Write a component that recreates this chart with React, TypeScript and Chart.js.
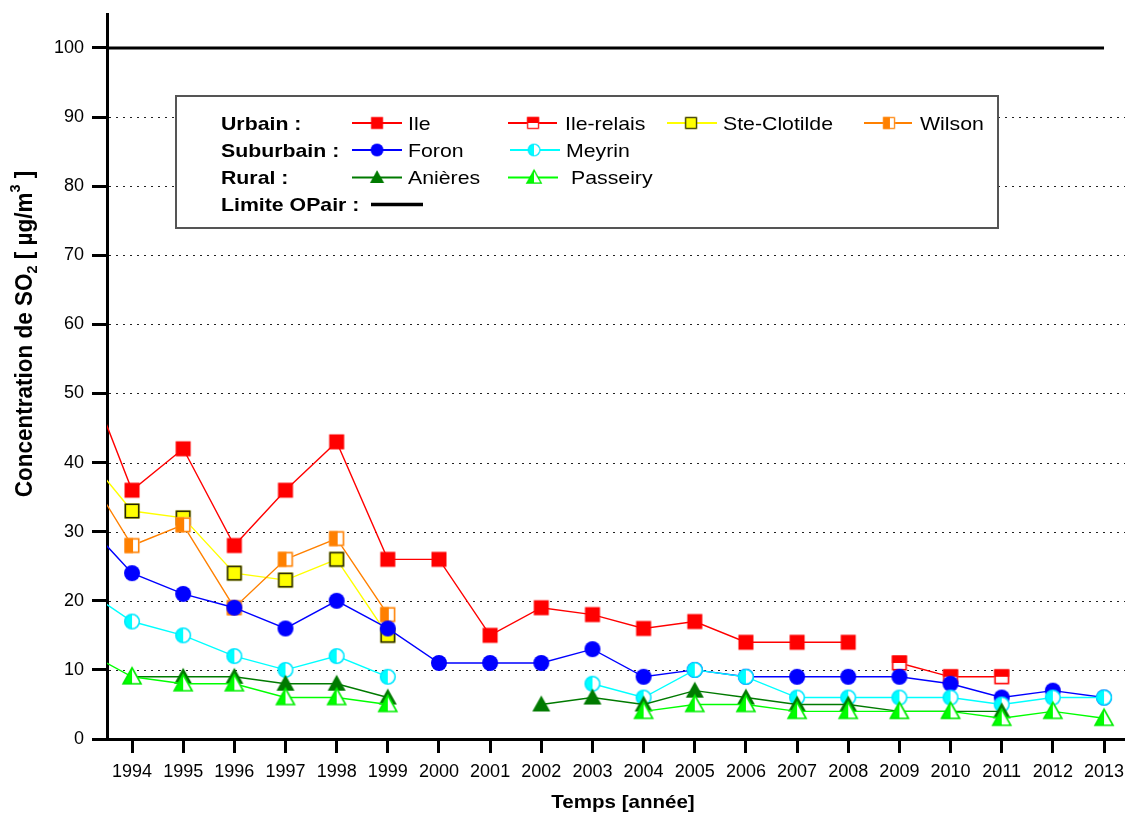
import React, { useEffect, useRef } from 'react';
import { Chart, registerables } from 'chart.js';

Chart.register(...registerables);

// ---------- data ----------
const years = [1993, 1994, 1995, 1996, 1997, 1998, 1999, 2000, 2001, 2002, 2003, 2004, 2005, 2006, 2007, 2008, 2009, 2010, 2011, 2012, 2013];
const tickYears = [1994, 1995, 1996, 1997, 1998, 1999, 2000, 2001, 2002, 2003, 2004, 2005, 2006, 2007, 2008, 2009, 2010, 2011, 2012, 2013];
const yTicks = [0, 10, 20, 30, 40, 50, 60, 70, 80, 90, 100];
const yGridValues = [10, 20, 30, 40, 50, 60, 70, 80, 90];

const ile = [55, 36, 42, 28, 36, 43, 26, 26, 15, 19, 18, 16, 17, 14, 14, 14, null, null, null, null, null];
const ileRelais = [null, null, null, null, null, null, null, null, null, null, null, null, null, null, null, null, 11, 9, 9, null, null];
const steClotilde = [42, 33, 32, 24, 23, 26, 15, null, null, null, null, null, null, null, null, null, null, null, null, null, null];
const wilson = [40, 28, 31, 19, 26, 29, 18, null, null, null, null, null, null, null, null, null, null, null, null, null, null];
const foron = [32, 24, 21, 19, 16, 20, 16, 11, 11, 11, 13, 9, 10, 9, 9, 9, 9, 8, 6, 7, 6];
const meyrin = [22, 17, 15, 12, 10, 12, 9, null, null, null, 8, 6, 10, 9, 6, 6, 6, 6, 5, 6, 6];
const anieres = [null, 9, 9, 9, 8, 8, 6, null, null, 5, 6, 5, 7, 6, 5, 5, 4, 4, 4, null, null];
const passeiry = [13, 9, 8, 8, 6, 6, 5, null, null, null, null, 4, 5, 5, 4, 4, 4, 4, 3, 4, 3];
const limitYears = [1993, 2013];
const limitValues = [100, 100];

const seriesNames = ['Ile', 'Ile-relais', 'Ste-Clotilde', 'Wilson', 'Foron', 'Meyrin', 'Anières', 'Passeiry'];
const groupLabels = ['Urbain :', 'Suburbain :', 'Rural :', 'Limite OPair :'];
const limitName = 'Limite OPair';
const xTitle = 'Temps [année]';

// ---------- styles ----------
const FONT = "'Liberation Sans', Arial, Helvetica, sans-serif";
const colors = ['#ff0000', '#ff0000', '#ffff00', '#ff8000', '#0000ff', '#00ffff', '#007a00', '#00ff00'];

function makeMarker(draw: (ctx: CanvasRenderingContext2D, c: number) => void): HTMLCanvasElement {
  const cv = document.createElement('canvas');
  cv.width = 24;
  cv.height = 24;
  const ctx = cv.getContext('2d') as CanvasRenderingContext2D;
  draw(ctx, 12);
  return cv;
}

function buildMarkers(): HTMLCanvasElement[] {
  const sq = 15;
  const h = sq / 2;
  const tri = (ctx: CanvasRenderingContext2D, c: number) => {
    ctx.beginPath();
    ctx.moveTo(c, c - 9);
    ctx.lineTo(c + 9, c + 7);
    ctx.lineTo(c - 9, c + 7);
    ctx.closePath();
  };
  return [
    makeMarker((ctx, c) => {
      ctx.fillStyle = '#ff0000';
      ctx.fillRect(c - h, c - h, sq, sq);
    }),
    makeMarker((ctx, c) => {
      ctx.fillStyle = '#ffffff';
      ctx.fillRect(c - h, c - h, sq, sq);
      ctx.fillStyle = '#ff0000';
      ctx.fillRect(c - h, c - h, sq, h);
      ctx.strokeStyle = '#ff0000';
      ctx.lineWidth = 1.6;
      ctx.strokeRect(c - h + 0.8, c - h + 0.8, sq - 1.6, sq - 1.6);
    }),
    makeMarker((ctx, c) => {
      ctx.fillStyle = '#ffff00';
      ctx.fillRect(c - h, c - h, sq, sq);
      ctx.strokeStyle = '#222200';
      ctx.lineWidth = 1.6;
      ctx.strokeRect(c - h + 0.8, c - h + 0.8, sq - 1.6, sq - 1.6);
    }),
    makeMarker((ctx, c) => {
      ctx.fillStyle = '#ffffff';
      ctx.fillRect(c - h, c - h, sq, sq);
      ctx.fillStyle = '#ff8000';
      ctx.fillRect(c - h, c - h, h + 1, sq);
      ctx.strokeStyle = '#ff8000';
      ctx.lineWidth = 1.6;
      ctx.strokeRect(c - h + 0.8, c - h + 0.8, sq - 1.6, sq - 1.6);
    }),
    makeMarker((ctx, c) => {
      ctx.fillStyle = '#0000ff';
      ctx.beginPath();
      ctx.arc(c, c, 8, 0, Math.PI * 2);
      ctx.fill();
    }),
    makeMarker((ctx, c) => {
      const r = 7.3;
      ctx.fillStyle = '#ffffff';
      ctx.beginPath();
      ctx.arc(c, c, r, 0, Math.PI * 2);
      ctx.fill();
      ctx.fillStyle = '#00ffff';
      ctx.beginPath();
      ctx.moveTo(c, c - r);
      ctx.arc(c, c, r, -Math.PI / 2, Math.PI / 2, true);
      ctx.closePath();
      ctx.fill();
      ctx.strokeStyle = '#00e8ff';
      ctx.lineWidth = 1.6;
      ctx.beginPath();
      ctx.arc(c, c, r, 0, Math.PI * 2);
      ctx.stroke();
    }),
    makeMarker((ctx, c) => {
      ctx.fillStyle = '#007a00';
      tri(ctx, c);
      ctx.fill();
    }),
    makeMarker((ctx, c) => {
      ctx.fillStyle = '#ffffff';
      tri(ctx, c);
      ctx.fill();
      ctx.fillStyle = '#00ff00';
      ctx.beginPath();
      ctx.moveTo(c, c - 9);
      ctx.lineTo(c, c + 7);
      ctx.lineTo(c - 9, c + 7);
      ctx.closePath();
      ctx.fill();
      ctx.strokeStyle = '#00ee00';
      ctx.lineWidth = 1.6;
      tri(ctx, c);
      ctx.stroke();
    }),
  ];
}

// legend layout (pixels)
const LEG_BOX = { x: 176, y: 96, w: 822, h: 132 };
const LEG_BASELINES = [129.5, 156.5, 184, 211];
const LEG_LABEL_X = 221;
const LEG_ITEMS = [
  { row: 0, x0: 352, x1: 402, mx: 377, tx: 408 },
  { row: 0, x0: 508, x1: 557, mx: 533, tx: 565 },
  { row: 0, x0: 667, x1: 717, mx: 691, tx: 723 },
  { row: 0, x0: 864, x1: 912, mx: 889, tx: 920 },
  { row: 1, x0: 352, x1: 402, mx: 377, tx: 408 },
  { row: 1, x0: 510, x1: 560, mx: 534, tx: 566 },
  { row: 2, x0: 352, x1: 402, mx: 377, tx: 408 },
  { row: 2, x0: 508, x1: 558, mx: 534, tx: 571 },
];

function stretchedText(ctx: CanvasRenderingContext2D, text: string, x: number, y: number, font: string, sx: number) {
  ctx.save();
  ctx.translate(x, y);
  ctx.scale(sx, 1);
  ctx.font = font;
  ctx.textAlign = 'left';
  ctx.textBaseline = 'alphabetic';
  ctx.fillStyle = '#000';
  ctx.fillText(text, 0, 0);
  ctx.restore();
}

export default function App() {
  const canvasRef = useRef<HTMLCanvasElement | null>(null);

  useEffect(() => {
    const canvas = canvasRef.current;
    if (!canvas) return;
    const markers = buildMarkers();
    Chart.defaults.font.family = FONT;
    Chart.defaults.color = '#000';

    const seriesData = [ile, ileRelais, steClotilde, wilson, foron, meyrin, anieres, passeiry];
    const clip = { left: 0, top: 10, right: 10, bottom: 10 };
    const datasets: any[] = seriesData.map((arr, i) => ({
      label: seriesNames[i],
      data: years.map((x, j) => ({ x, y: arr[j] })),
      borderColor: colors[i],
      backgroundColor: colors[i],
      borderWidth: 1.4,
      pointStyle: markers[i],
      pointRadius: 6,
      pointHoverRadius: 6,
      spanGaps: false,
      tension: 0,
      order: 20 - i,
      clip,
    }));
    datasets.push({
      label: limitName,
      data: limitYears.map((x, j) => ({ x, y: limitValues[j] })),
      borderColor: '#000',
      borderWidth: 3,
      pointRadius: 0,
      order: 1,
      clip,
    });

    const dottedGrid = {
      id: 'dottedGrid',
      beforeDatasetsDraw(chart: any) {
        const ctx: CanvasRenderingContext2D = chart.ctx;
        const area = chart.chartArea;
        const ys = chart.scales.y;
        ctx.save();
        ctx.strokeStyle = '#222';
        ctx.lineWidth = 1;
        ctx.setLineDash([2, 5]);
        yGridValues.forEach((v) => {
          const py = Math.round(ys.getPixelForValue(v)) + 0.5;
          ctx.beginPath();
          ctx.moveTo(area.left + 2, py);
          ctx.lineTo(area.right, py);
          ctx.stroke();
        });
        ctx.restore();
      },
    };

    const overlay = {
      id: 'overlay',
      afterDraw(chart: any) {
        const ctx: CanvasRenderingContext2D = chart.ctx;
        ctx.save();
        // legend box
        ctx.fillStyle = '#fff';
        ctx.fillRect(LEG_BOX.x, LEG_BOX.y, LEG_BOX.w, LEG_BOX.h);
        ctx.strokeStyle = '#555';
        ctx.lineWidth = 2;
        ctx.strokeRect(LEG_BOX.x, LEG_BOX.y, LEG_BOX.w, LEG_BOX.h);
        const fontB = `bold 19px ${FONT}`;
        const fontR = `19px ${FONT}`;
        groupLabels.forEach((g, r) => stretchedText(ctx, g, LEG_LABEL_X, LEG_BASELINES[r], fontB, 1.12));
        LEG_ITEMS.forEach((it, i) => {
          const cy = LEG_BASELINES[it.row] - 6.5;
          ctx.strokeStyle = colors[i];
          ctx.lineWidth = 2;
          ctx.beginPath();
          ctx.moveTo(it.x0, cy);
          ctx.lineTo(it.x1, cy);
          ctx.stroke();
          const m = markers[i];
          const s = 0.8;
          ctx.drawImage(m, it.mx - (m.width * s) / 2, cy - (m.height * s) / 2, m.width * s, m.height * s);
          stretchedText(ctx, seriesNames[i], it.tx, LEG_BASELINES[it.row], fontR, 1.12);
        });
        // limit line in legend
        const ly = LEG_BASELINES[3] - 6.5;
        ctx.strokeStyle = '#000';
        ctx.lineWidth = 3.5;
        ctx.beginPath();
        ctx.moveTo(371, ly);
        ctx.lineTo(423, ly);
        ctx.stroke();

        // x title
        const xf = `bold 18.5px ${FONT}`;
        ctx.font = xf;
        const xw = ctx.measureText(xTitle).width * 1.11;
        stretchedText(ctx, xTitle, 623 - xw / 2, 808, xf, 1.11);

        // y title (rotated, with sub/superscript)
        const big = `bold 22.5px ${FONT}`;
        const small = `bold 14.5px ${FONT}`;
        const parts = [
          { t: 'Concentration de SO', f: big, dy: 0 },
          { t: '2', f: small, dy: 5 },
          { t: ' [ µg/m', f: big, dy: 0 },
          { t: '3', f: small, dy: -11.5 },
          { t: ' ]', f: big, dy: 0 },
        ];
        let total = 0;
        const widths = parts.map((p) => {
          ctx.font = p.f;
          const w = ctx.measureText(p.t).width;
          total += w;
          return w;
        });
        ctx.save();
        ctx.translate(32, 334);
        ctx.rotate(-Math.PI / 2);
        ctx.scale(1, 1.05);
        ctx.fillStyle = '#000';
        ctx.textBaseline = 'alphabetic';
        ctx.textAlign = 'left';
        let x = -total / 2;
        parts.forEach((p, i) => {
          ctx.font = p.f;
          ctx.fillText(p.t, x, p.dy);
          x += widths[i];
        });
        ctx.restore();
        ctx.restore();
      },
    };

    const chart = new Chart(canvas, {
      type: 'line',
      data: { datasets },
      options: {
        responsive: false,
        animation: false,
        layout: { autoPadding: false, padding: { top: 14, right: 0, left: 0, bottom: 0 } },
        plugins: { legend: { display: false }, tooltip: { enabled: false } },
        elements: { line: { borderJoinStyle: 'miter' } },
        scales: {
          x: {
            type: 'linear',
            min: 1993.511,
            max: 2013.41,
            afterBuildTicks: (scale: any) => {
              scale.ticks = tickYears.map((v) => ({ value: v }));
            },
            afterFit: (scale: any) => {
              scale.height = 74;
              scale.paddingLeft = 0;
              scale.paddingRight = 0;
            },
            border: { display: true, color: '#000', width: 3 },
            grid: {
              drawOnChartArea: false,
              drawTicks: true,
              tickLength: 14,
              tickWidth: 3,
              tickColor: '#000',
            },
            ticks: {
              autoSkip: false,
              maxRotation: 0,
              padding: 8,
              font: { size: 18, family: FONT },
              color: '#000',
              callback: (v: any) => String(v),
            },
          },
          y: {
            type: 'linear',
            min: 0,
            max: 104.92,
            afterBuildTicks: (scale: any) => {
              scale.ticks = yTicks.map((v) => ({ value: v }));
            },
            afterFit: (scale: any) => {
              scale.width = 107;
              scale.paddingTop = 0;
              scale.paddingBottom = 0;
            },
            border: { display: true, color: '#000', width: 3 },
            grid: {
              drawOnChartArea: false,
              drawTicks: true,
              tickLength: 15,
              tickWidth: 3,
              tickColor: '#000',
            },
            ticks: {
              padding: 8,
              font: { size: 18, family: FONT },
              color: '#000',
              callback: (v: any) => String(v),
            },
          },
        },
      },
      plugins: [dottedGrid, overlay],
    } as any);

    return () => chart.destroy();
  }, []);

  return (
    <div style={{ position: 'absolute', left: 0, top: 0, width: 1125, height: 813, background: '#fff' }}>
      <canvas ref={canvasRef} width={1125} height={813} style={{ display: 'block' }} />
    </div>
  );
}
